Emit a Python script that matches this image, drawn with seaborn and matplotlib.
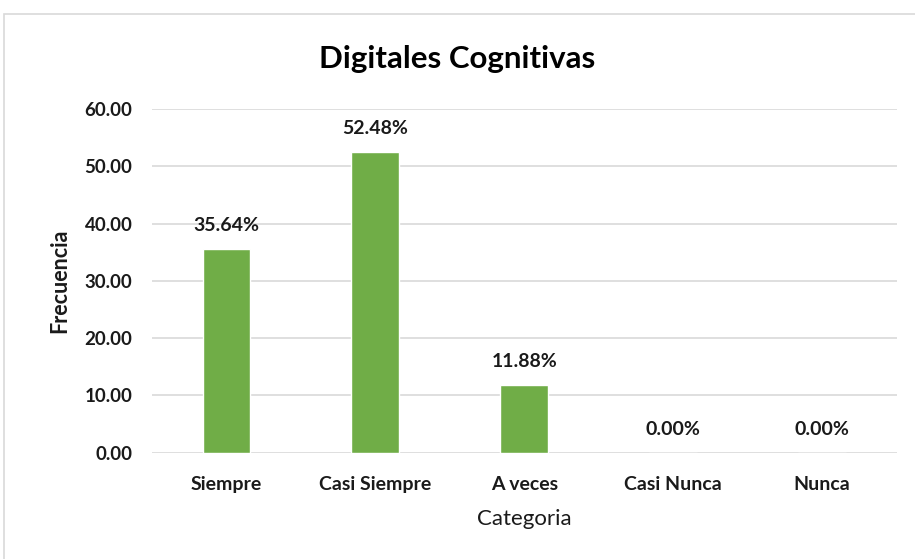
import matplotlib
matplotlib.use('Agg')
import matplotlib.pyplot as plt
import seaborn as sns
import pandas as pd
from matplotlib.patches import Rectangle

# --- Data ---
categorias = ['Siempre', 'Casi Siempre', 'A veces', 'Casi Nunca', 'Nunca']
frecuencia = [35.64, 52.48, 11.88, 0.00, 0.00]
y_ticks = [0, 10, 20, 30, 40, 50, 60]

df = pd.DataFrame({'Categoria': categorias, 'Frecuencia': frecuencia})

sns.set_style('white')
plt.rcParams['font.family'] = ['Lato', 'DejaVu Sans']

fig = plt.figure(figsize=(9.15, 5.59), dpi=100)
ax = fig.add_axes([0.166, 0.19, 0.814, 0.615])

# light grey chart border like the Excel chart area
fig.patches.append(Rectangle((4 / 915, -0.05), 1.0, 1.05 - 14 / 559,
                             transform=fig.transFigure, fill=False,
                             edgecolor='#D9D9D9', linewidth=1.2))

sns.barplot(data=df, x='Categoria', y='Frecuencia', color='#70AD47',
            width=0.32, saturation=1, ax=ax)

ax.set_ylim(0, 60)
ax.set_xlim(-0.5, len(categorias) - 0.5)
ax.set_yticks(y_ticks)
ax.set_yticklabels([f'{v:.2f}' for v in y_ticks], fontsize=13.5,
                   fontweight='bold', color='#1a1a1a')
ax.set_xticks(range(len(categorias)))
ax.set_xticklabels(categorias, fontsize=14, fontweight='bold', color='#1a1a1a')
ax.tick_params(axis='y', length=0, pad=14)
ax.tick_params(axis='x', length=0, pad=17)

ax.yaxis.grid(True, color='#D9D9D9', linewidth=1.2)
ax.set_axisbelow(True)
for s in ax.spines.values():
    s.set_visible(False)

# data labels
for i, v in enumerate(frecuencia):
    ax.text(i, v + 2.6, f'{v:.2f}%', ha='center', va='bottom',
            fontsize=14, fontweight='bold', color='#1a1a1a')

ax.set_xlabel('Categoria', fontsize=16, labelpad=11, color='#1a1a1a')
ax.set_ylabel('Frecuencia', fontsize=15.5, fontweight='bold', labelpad=10,
              color='#1a1a1a')
fig.text(0.5, 0.895, 'Digitales Cognitivas', ha='center', va='center',
         fontsize=22.5, fontweight='bold', color='#000000')

fig.savefig('out.png', dpi=100)
